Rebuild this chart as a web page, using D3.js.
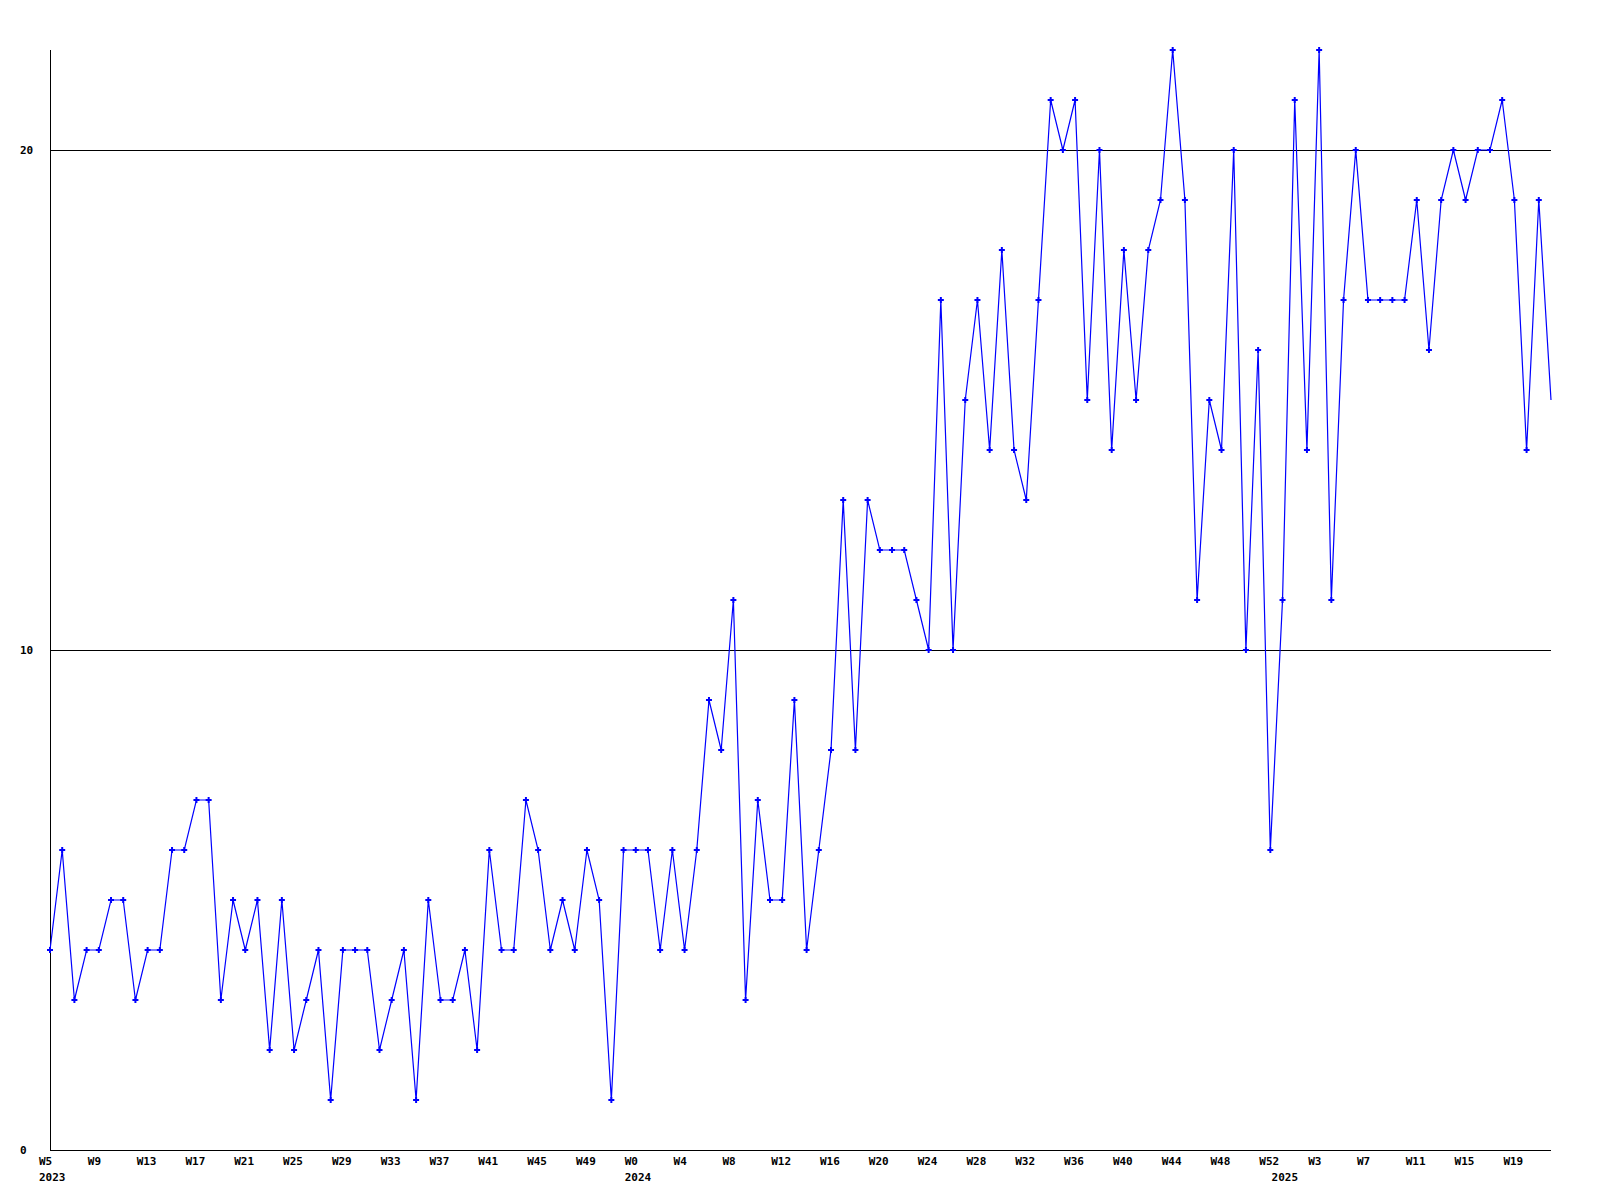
<!DOCTYPE html>
<html>
<head>
<meta charset="utf-8">
<script src="https://cdn.jsdelivr.net/npm/d3@7"></script>
<style>
  html, body { margin: 0; padding: 0; background: #ffffff; }
  svg { display: block; }
  text { font-family: "DejaVu Sans Mono", monospace; font-weight: bold; font-size: 11px; fill: #000; }
</style>
</head>
<body>
<svg id="chart" width="1600" height="1200"></svg>
<script>
// Weekly values, 2023 W5 ... 2025 W22 (one value per week)
const values2023 = [4,6,3,4,4,5,5,3,4,4,6,6,7,7,3,5,4,5,2,5,2,3,4,1,
                    4,4,4,2,3,4,1,5,3,3,4,2,6,4,4,7,6,4,5,4,6,5,1,6];
const values2024 = [6,6,4,6,4,6,9,8,11,3,7,5,5,9,4,6,8,13,8,13,12,12,12,11,10,
                    17,10,15,17,14,18,14,13,17,21,20,21,15,20,14,18,15,18,19,22,19,11,15,14,20,10,16,6];
const values2025 = [11,21,14,22,11,17,20,17,17,17,17,19,16,19,20,19,20,20,21,19,14,19,15];

const values = values2023.concat(values2024, values2025);

// x-axis tick labels (point index -> label)
const weekTickIndex = [0,4,8,12,16,20,24,28,32,36,40,44,48,52,56,60,64,68,72,76,80,84,88,92,96,100,104,108,112,116,120];
const weekTickLabels = ["W5","W9","W13","W17","W21","W25","W29","W33","W37","W41","W45","W49",
                        "W0","W4","W8","W12","W16","W20","W24","W28","W32","W36","W40","W44","W48","W52",
                        "W3","W7","W11","W15","W19"];
const yearTickIndex = [0,48,101];
const yearTickLabels = ["2023","2024","2025"];
const yTicks = [0,10,20];

const svg = d3.select("#chart");
const mLeft = 50, mRight = 1551, mTop = 50, mBottom = 1150;

const x = d3.scaleLinear().domain([0, values.length - 1]).range([mLeft, mRight]);
const y = d3.scaleLinear().domain([0, 22]).range([mBottom, mTop]);

// gridlines
svg.append("g").selectAll("line").data(yTicks.filter(d => d > 0)).join("line")
  .attr("x1", mLeft).attr("x2", mRight)
  .attr("y1", d => Math.round(y(d)) + 0.5).attr("y2", d => Math.round(y(d)) + 0.5)
  .attr("stroke", "#000").attr("stroke-width", 1).attr("shape-rendering", "crispEdges");

// axes lines
svg.append("line").attr("x1", mLeft + 0.5).attr("x2", mLeft + 0.5).attr("y1", mTop).attr("y2", mBottom + 0.5)
  .attr("stroke", "#000").attr("shape-rendering", "crispEdges");
svg.append("line").attr("x1", mLeft).attr("x2", mRight).attr("y1", mBottom + 0.5).attr("y2", mBottom + 0.5)
  .attr("stroke", "#000").attr("shape-rendering", "crispEdges");

// y labels
svg.append("g").selectAll("text").data(yTicks).join("text")
  .attr("x", 20).attr("y", d => y(d)).attr("dy", "0.35em")
  .text(d => d);

// x week labels
svg.append("g").selectAll("text").data(weekTickIndex).join("text")
  .attr("x", d => x(d) - 11).attr("y", 1165)
  .text((d, i) => weekTickLabels[i]);

// year labels
svg.append("g").selectAll("text").data(yearTickIndex).join("text")
  .attr("x", d => x(d) - 11).attr("y", 1181)
  .text((d, i) => yearTickLabels[i]);

// data line
const line = d3.line().x((d, i) => x(i)).y(d => y(d));
svg.append("path").datum(values)
  .attr("d", line).attr("fill", "none").attr("stroke", "#0000ff").attr("stroke-width", 1.2);

// markers (the last, in-progress week has none)
const cross = d3.symbol().type(d3.symbolCross).size(20);
svg.append("g").selectAll("path").data(values.slice(0, -1)).join("path")
  .attr("transform", (d, i) => `translate(${x(i)},${y(d)})`)
  .attr("d", cross).attr("fill", "#0000ff");
</script>
</body>
</html>
